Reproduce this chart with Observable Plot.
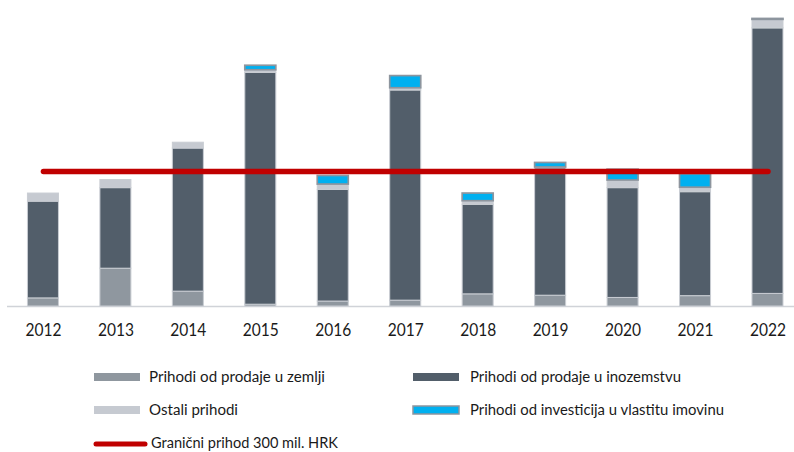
<!DOCTYPE html>
<html>
<head>
<meta charset="utf-8">
<script src="https://cdn.jsdelivr.net/npm/d3@7"></script>
<script src="https://cdn.jsdelivr.net/npm/@observablehq/plot@0.6"></script>
<style>
  html, body { margin: 0; padding: 0; background: #fff; overflow: hidden; width: 794px; height: 452px; }
  #chart svg { display: block; }
  #legend { display: block; overflow: visible; }
</style>
</head>
<body>
<div id="chart"></div>
<svg id="legend" width="794" height="107"></svg>
<script>
// ---- data (mil. HRK) ----
const years = ["2012","2013","2014","2015","2016","2017","2018","2019","2020","2021","2022"];
const seriesNames = [
  "Prihodi od prodaje u zemlji",
  "Prihodi od prodaje u inozemstvu",
  "Ostali prihodi",
  "Prihodi od investicija u vlastitu imovinu"
];
const zemlji      = [18, 84, 33, 4, 11, 13, 27, 24, 19, 23, 28];
const inozemstvo  = [215, 179, 318, 515, 248, 467, 199, 283, 244, 231, 590];
const ostali      = [18, 18, 13, 6, 12, 5, 8, 2, 17, 10, 19];
const investicije = [0, 0, 0, 10, 19, 27, 17, 10, 24, 30, 2];
const threshold = 300;
const thresholdLabel = "Granični prihod 300 mil. HRK";
const seriesColors = ["#8f979f", "#525e6a", "#c6cad1", "#00b0f0"];

// ---- build stacked table ----
const seriesValues = [zemlji, inozemstvo, ostali, investicije];
const rows = [];
years.forEach((yr, i) => {
  let acc = 0;
  seriesValues.forEach((vals, s) => {
    rows.push({year: yr, series: seriesNames[s], y1: acc, y2: acc + vals[i], value: vals[i]});
    acc += vals[i];
  });
});
const invName = seriesNames[3];
const lineData = years.map(y => ({year: y, v: threshold}));

const plot = Plot.plot({
  width: 794,
  height: 345,
  marginLeft: 7,
  marginRight: 0,
  marginTop: 0,
  marginBottom: 39,
  style: {fontFamily: "Lato, sans-serif", background: "#fff"},
  x: {domain: years, paddingInner: 0.572, paddingOuter: 0.217, align: 0.65, round: false, label: null},
  y: {domain: [0, 680], axis: null},
  color: {domain: seriesNames, range: seriesColors},
  marks: [
    Plot.ruleY([0], {stroke: "#d0d3d8", strokeWidth: 1.5}),
    Plot.barY(rows.filter(d => d.series !== invName && d.value > 0),
      {x: "year", y1: "y1", y2: "y2", fill: "series", stroke: "#c9cdd3", strokeWidth: 1}),
    Plot.barY(rows.filter(d => d.series === invName && d.value > 0),
      {x: "year", y1: "y1", y2: "y2", fill: "series", stroke: "#8d959e", strokeWidth: 1.7}),
    Plot.lineY(lineData, {x: "year", y: "v", stroke: "#c00000", strokeWidth: 5.5, strokeLinecap: "round"}),
    Plot.axisX({tickSize: 0, tickPadding: 17, fontSize: 18, fill: "#1a1a1a", label: null})
  ]
});
document.getElementById("chart").appendChild(plot);
plot.querySelectorAll('[aria-label="x-axis tick label"] text').forEach(t => {
  t.setAttribute("textLength", 36);
  t.setAttribute("lengthAdjust", "spacingAndGlyphs");
  t.setAttribute("fill", "#1a1a1a");
});

// ---- legend ----
const lg = d3.select("#legend");
const items = [
  {kind: "rect", x: 94, cy: 32, ty: 37, fill: seriesColors[0], text: seriesNames[0], tx: 149, len: 176},
  {kind: "rect", x: 413, cy: 32, ty: 37, fill: seriesColors[1], text: seriesNames[1], tx: 470, len: 211},
  {kind: "rect", x: 94, cy: 65, ty: 70, fill: seriesColors[2], text: seriesNames[2], tx: 149, len: 89},
  {kind: "rect", x: 413, cy: 65, ty: 70, fill: seriesColors[3], stroke: "#8d959e", text: seriesNames[3], tx: 470, len: 254},
  {kind: "line", x: 94, cy: 99, ty: 103, text: thresholdLabel, tx: 151, len: 187}
];
items.forEach(it => {
  if (it.kind === "rect") {
    lg.append("rect").attr("x", it.x).attr("y", it.cy - 4).attr("width", 46).attr("height", 8)
      .attr("fill", it.fill).attr("stroke", it.stroke || "none").attr("stroke-width", it.stroke ? 1.5 : 0);
  } else {
    lg.append("line").attr("x1", it.x + 2).attr("x2", it.x + 51).attr("y1", it.cy).attr("y2", it.cy)
      .attr("stroke", "#c00000").attr("stroke-width", 5).attr("stroke-linecap", "round");
  }
  lg.append("text").attr("x", it.tx).attr("y", it.ty)
    .attr("font-family", "Lato, sans-serif").attr("font-size", 14.5).attr("fill", "#1a1a1a")
    .attr("textLength", it.len).attr("lengthAdjust", "spacingAndGlyphs")
    .text(it.text);
});
</script>
</body>
</html>
